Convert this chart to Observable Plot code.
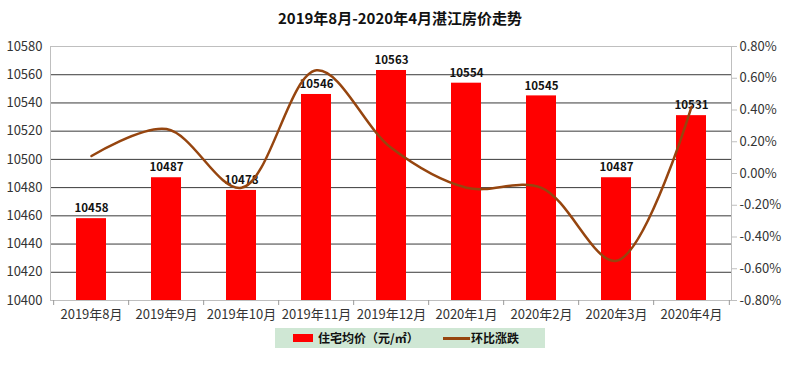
<!DOCTYPE html>
<html><head><meta charset="utf-8">
<script src="https://cdn.jsdelivr.net/npm/d3@7"></script>
<script src="https://cdn.jsdelivr.net/npm/@observablehq/plot@0.6"></script>
<style>
body{margin:0;background:#fff;font-family:"Noto Sans CJK SC","Noto Sans",sans-serif;}
#wrap{position:relative;width:800px;height:365px;overflow:hidden;}
#title{position:absolute;left:0;top:8px;width:800px;text-align:center;font-size:15px;font-weight:bold;color:#111;line-height:20px;}
#legend{position:absolute;left:275px;top:328px;width:270px;height:20px;background:#cfe7d4;font-size:12px;font-weight:bold;color:#111;}
#legend .sw{position:absolute;top:6px;left:18px;width:20px;height:8px;background:#ff0000;}
#legend .ln{position:absolute;top:9px;left:168px;width:27px;height:3px;background:#96450f;}
#legend .t1{position:absolute;left:43px;top:1px;line-height:18px;}
#legend .t2{position:absolute;left:196px;top:1px;line-height:18px;}
</style></head>
<body><div id="wrap"><div id="title">2019年8月-2020年4月湛江房价走势</div><div id="chart"></div>
<div id="legend"><div class="sw"></div><div class="t1">住宅均价（元/㎡）</div><div class="ln"></div><div class="t2">环比涨跌</div></div></div>
<script>
const months = ["2019年8月","2019年9月","2019年10月","2019年11月","2019年12月","2020年1月","2020年2月","2020年3月","2020年4月"];
const prices = [10458, 10487, 10478, 10546, 10563, 10554, 10545, 10487, 10531];
const changes = [0.11, 0.28, -0.09, 0.65, 0.16, -0.09, -0.09, -0.55, 0.42];
const leftTicks = [10400, 10420, 10440, 10460, 10480, 10500, 10520, 10540, 10560, 10580];
const rightTicks = [-0.8, -0.6, -0.4, -0.2, 0, 0.2, 0.4, 0.6, 0.8];

const yMin = 10400, yMax = 10580, pMin = -0.8, pMax = 0.8;
const toLeft = p => yMin + (p - pMin) / (pMax - pMin) * (yMax - yMin);
const fromLeft = v => pMin + (v - yMin) / (yMax - yMin) * (pMax - pMin);
const data = months.map((m, i) => ({month: m, price: prices[i], change: changes[i]}));

const W = 800, H = 365, mL = 50, mR = 69, mT = 46, mB = 65;
const step = (W - mL - mR) / months.length;
const font = '"Noto Sans CJK SC","Noto Sans",sans-serif';

const chart = Plot.plot({
  width: W, height: H,
  marginLeft: mL, marginRight: mR, marginTop: mT, marginBottom: mB,
  style: {fontFamily: font, fontSize: "13px", color: "#333", background: "#fff"},
  x: {domain: months, paddingInner: 0.6, paddingOuter: 0.3, label: null},
  y: {domain: [yMin, yMax], label: null},
  marks: [
    Plot.ruleY(leftTicks.slice(1, -1), {stroke: "#3a3a3a", strokeWidth: 1}),
    Plot.barY(data, {x: "month", y1: yMin, y2: "price", fill: "#ff0000"}),
    Plot.frame({stroke: "#bfbfbf"}),
    Plot.axisY({anchor: "left", ticks: leftTicks, tickSize: 0, tickPadding: 8, tickFormat: d => String(d), fill: "#333"}),
    Plot.axisY({anchor: "right", ticks: rightTicks.map(toLeft), tickSize: 5, tickPadding: 3, stroke: "#bfbfbf", fill: "#333",
      tickFormat: v => { let p = Math.round(fromLeft(v) * 100) / 100; if (p === 0) p = 0; return p.toFixed(2) + "%"; }}),
    Plot.axisX({tickSize: 0, tickPadding: 9, fill: "#333"}),
    Plot.axisX({tickSize: 5, tickFormat: () => "", dx: -step / 2, stroke: "#999"}),
    Plot.axisX({ticks: [months[months.length - 1]], tickSize: 5, tickFormat: () => "", dx: step / 2, stroke: "#999"}),
    Plot.text(data, {x: "month", y: "price", text: d => String(d.price), dy: -10, fontWeight: "bold", fontSize: 11.5, fill: "#111"}),
    Plot.line(data, {x: "month", y: d => toLeft(d.change), curve: "catmull-rom", stroke: "#96450f", strokeWidth: 2.5})
  ]
});
document.getElementById("chart").appendChild(chart);
</script></body></html>
